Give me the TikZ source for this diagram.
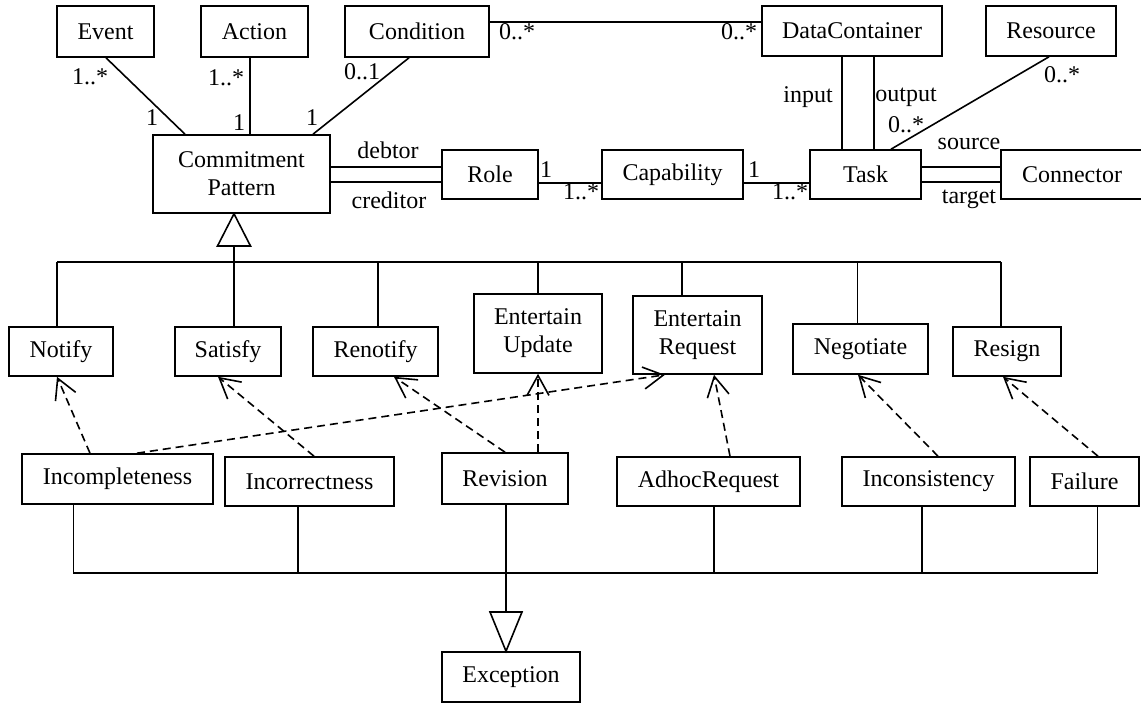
\documentclass[tikz,border=0pt]{standalone}
\usepackage{fontspec}
\setmainfont{Liberation Serif}
\usetikzlibrary{arrows.meta}
\begin{document}
\begin{tikzpicture}[x=0.5pt,y=-0.5pt,
  box/.style={draw, line width=0.8pt, inner sep=0pt, align=center, font=\fontsize{12pt}{14pt}\selectfont},
  lbl/.style={inner sep=0pt, font=\fontsize{12pt}{14pt}\selectfont},
  assoc/.style={line width=0.8pt},
  gen/.style={line width=0.8pt},
  dep/.style={line width=0.8pt, dash pattern=on 4pt off 2.5pt, -{Straight Barb[length=10pt,width=11pt,line width=0.8pt]}}]
\useasboundingbox (0,0) rectangle (1141,705);
% top row
\node[box, minimum width=48.5pt, minimum height=25.5pt] (event) at (105.5,31.5) {Event};
\node[box, minimum width=53.5pt, minimum height=25.5pt] (action) at (254.5,31.5) {Action};
\node[box, minimum width=72pt, minimum height=25.5pt] (cond) at (417,31.5) {Condition};
\node[box, minimum width=90pt, minimum height=25pt] (dc) at (852,31) {DataContainer};
\node[box, minimum width=65pt, minimum height=25pt] (res) at (1051,31) {Resource};
% second row
\node[box, minimum width=88.5pt, minimum height=39pt] (cp) at (241.5,174) {Commitment\\Pattern};
\node[box, minimum width=48pt, minimum height=24.5pt] (role) at (490,174.5) {Role};
\node[box, minimum width=70.5pt, minimum height=24.5pt] (cap) at (672.5,174.5) {Capability};
\node[box, minimum width=55.5pt, minimum height=24.5pt] (task) at (865.5,174.5) {Task};
\node[box, minimum width=71pt, minimum height=24.5pt] (conn) at (1072,174.5) {Connector};
% patterns
\node[box, minimum width=52pt, minimum height=24.5pt] (notify) at (61,351.5) {Notify};
\node[box, minimum width=53pt, minimum height=24.5pt] (satisfy) at (228,351.5) {Satisfy};
\node[box, minimum width=62.5pt, minimum height=24.5pt] (renotify) at (375.5,351.5) {Renotify};
\node[box, minimum width=64pt, minimum height=39.5pt] (eupdate) at (538,333.5) {Entertain\\Update};
\node[box, minimum width=64.5pt, minimum height=39pt] (erequest) at (697.5,335) {Entertain\\Request};
\node[box, minimum width=67.5pt, minimum height=25pt] (negotiate) at (860.5,349) {Negotiate};
\node[box, minimum width=54pt, minimum height=24.5pt] (resign) at (1007,351.5) {Resign};
% exceptions
\node[box, minimum width=95.5pt, minimum height=25pt] (incompl) at (117.5,479) {Incompleteness};
\node[box, minimum width=84.5pt, minimum height=24.5pt] (incorr) at (309.5,481.5) {Incorrectness};
\node[box, minimum width=63pt, minimum height=25.5pt] (revision) at (505,478.5) {Revision};
\node[box, minimum width=91.5pt, minimum height=24.5pt] (adhoc) at (708.5,481.5) {AdhocRequest};
\node[box, minimum width=86.5pt, minimum height=24.5pt] (inconsist) at (928.5,481.5) {Inconsistency};
\node[box, minimum width=54.5pt, minimum height=24.5pt] (failure) at (1084.5,481.5) {Failure};
\node[box, minimum width=69pt, minimum height=25pt] (exception) at (511,677) {Exception};
% associations
\draw[assoc] (event.south -| 106,0) -- (cp.north -| 185,0);
\draw[assoc] (action.south -| 250,0) -- (cp.north -| 250,0);
\draw[assoc] (cond.south -| 409,0) -- (cp.north -| 313,0);
\draw[assoc] (cond.east |- 0,22) -- (dc.west |- 0,22);
\draw[assoc] (cp.east |- 0,167) -- (role.west |- 0,167);
\draw[assoc] (cp.east |- 0,182) -- (role.west |- 0,182);
\draw[assoc] (role.east |- 0,183) -- (cap.west |- 0,183);
\draw[assoc] (cap.east |- 0,183) -- (task.west |- 0,183);
\draw[assoc] (dc.south -| 842,0) -- (task.north -| 842,0);
\draw[assoc] (dc.south -| 874,0) -- (task.north -| 874,0);
\draw[assoc] (res.south -| 1049,0) -- (task.north -| 891,0);
\draw[assoc] (task.east |- 0,167) -- (conn.west |- 0,167);
\draw[assoc] (task.east |- 0,182) -- (conn.west |- 0,182);
% labels
\node[lbl] (l1) at (90,77) {1..*};
\node[lbl] (l2) at (152,118) {1};
\node[lbl] (l3) at (226,78) {1..*};
\node[lbl] (l4) at (239,123) {1};
\node[lbl] (l5) at (362,72) {0..1};
\node[lbl] (l6) at (312,118) {1};
\node[lbl] (l7) at (388,150) {debtor};
\node[lbl] (l8) at (389,200) {creditor};
\node[lbl] (l9) at (517,32) {0..*};
\node[lbl] (l10) at (739,32) {0..*};
\node[lbl] (l11) at (808,97) {input};
\node[lbl] (l12) at (906,97) {output};
\node[lbl] (l13) at (1062,75) {0..*};
\node[lbl] (l14) at (906,125) {0..*};
\node[lbl] (l15) at (546,170) {1};
\node[lbl] (l16) at (581,192) {1..*};
\node[lbl] (l17) at (754,170) {1};
\node[lbl] (l18) at (790,192) {1..*};
\node[lbl] (l19) at (969,144) {source};
\node[lbl] (l20) at (969,199) {target};
% generalization (top)
\coordinate (gtop) at (234,246);
\coordinate (busL) at (57,262);
\coordinate (busR) at (1001,262);
\draw[gen, line join=miter] (cp.south -| gtop) -- (217.5,246) -- (250.5,246) -- cycle;
\draw[gen] (gtop) -- (satisfy.north -| gtop);
\draw[gen] (busL) -- (busR);
\draw[gen] (notify.north -| busL) -- (busL);
\draw[gen] (renotify.north -| 378,0) -- (378,262);
\draw[gen] (eupdate.north -| 538,0) -- (538,262);
\draw[gen] (erequest.north -| 682,0) -- (682,262);
\draw[gen] (negotiate.north -| 857.5,0) -- (857.5,262);
\draw[gen] (resign.north -| busR) -- (busR);
% dependencies
\draw[dep] (incompl.north -| 90,0) -- (notify.south -| 57,0);
\draw[dep] (incorr.north -| 314,0) -- (satisfy.south -| 218,0);
\draw[dep] (revision.north -| 505,0) -- (renotify.south -| 394,0);
\draw[dep] (revision.north -| 538,0) -- (eupdate.south -| 538,0);
\draw[dep] (incompl.north -| 137,0) -- (erequest.south -| 665,0);
\draw[dep] (adhoc.north -| 730,0) -- (erequest.south -| 714,0);
\draw[dep] (inconsist.north -| 938,0) -- (negotiate.south -| 858,0);
\draw[dep] (failure.north -| 1098,0) -- (resign.south -| 1003,0);
% generalization (bottom)
\coordinate (bL) at (73.5,573);
\coordinate (bR) at (1097.5,573);
\coordinate (gbot) at (506,612);
\draw[gen] (incompl.south -| bL) -- (bL) -- (bR) -- (failure.south -| bR);
\draw[gen] (incorr.south -| 298,0) -- (298,573);
\draw[gen] (adhoc.south -| 714,0) -- (714,573);
\draw[gen] (inconsist.south -| 922,0) -- (922,573);
\draw[gen] (revision.south -| gbot) -- (gbot);
\draw[gen, line join=miter] (exception.north -| gbot) -- (490,612) -- (522,612) -- cycle;
\end{tikzpicture}
\end{document}
